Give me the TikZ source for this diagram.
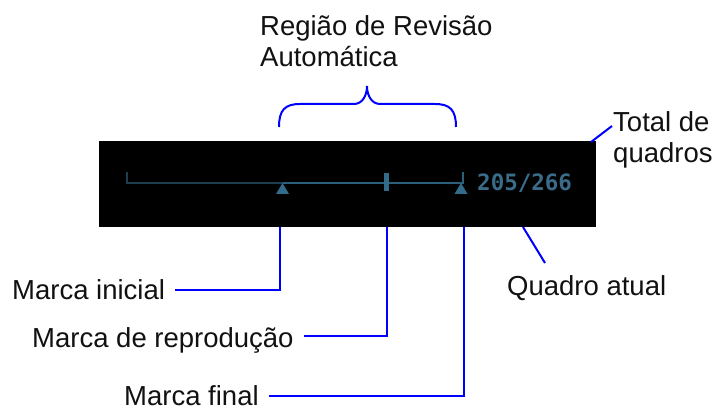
\documentclass[tikz,border=0pt]{standalone}
\usepackage{fontspec}
\setmainfont{Liberation Sans}
\newfontfamily\monofont{DejaVu Sans Mono}
\definecolor{callout}{RGB}{0,0,255}
\definecolor{txt}{RGB}{17,17,17}
\definecolor{dimline}{RGB}{28,62,78}
\definecolor{barline}{RGB}{42,96,124}
\definecolor{markc}{RGB}{50,108,138}
\definecolor{numc}{RGB}{58,108,138}
\tikzset{
  lbl/.style={inner sep=0pt, text=txt, font=\fontsize{27.5}{31}\selectfont, align=left},
  conn/.style={draw=callout, line width=2pt},
  screen/.style={fill=black, draw=none, inner sep=0pt, minimum width=497pt, minimum height=86pt},
}
\begin{document}
\begin{tikzpicture}[x=1pt, y=-1pt]
\useasboundingbox (0,0) rectangle (714,411);
% screen
\node[screen, anchor=north west] (scr) at (99,141) {};
% timeline
\draw[dimline, line width=2pt] (127,172) -- (127,183) -- (283,183);
\draw[barline, line width=2pt] (283,183) -- (463,183) -- (463,172);
\fill[markc] (276,194) -- (282.5,183) -- (289,194) -- cycle;
\fill[markc] (383.5,173) rectangle (388.5,191);
\fill[markc] (454.5,194) -- (461,183) -- (467.5,194) -- cycle;
\node[anchor=base west, inner sep=0pt, text=numc, font=\monofont\bfseries\fontsize{22.5}{24}\selectfont] (cnt) at (477,191) {205/266};
% attachment points on the screen
\coordinate (pinit) at (280,227);
\coordinate (prep) at (387,227);
\coordinate (pfin) at (464,227);
\coordinate (ptot) at (591,142);
\coordinate (pcur) at (523,227);
% labels (base = baseline of last line)
\node[lbl, anchor=base west] (reg) at (260,67) {Região de Revisão\\Automática};
\node[lbl, anchor=base west] (tot) at (613,163) {Total de\\quadros};
\node[lbl, anchor=base west] (cur) at (507,295) {Quadro atual};
\node[lbl, anchor=base west] (minit) at (12,300) {Marca inicial};
\node[lbl, anchor=base west] (mrep) at (32,347) {Marca de reprodução};
\node[lbl, anchor=base west] (mfin) at (124,405) {Marca final};
% brace
\coordinate (btip) at (367,86);
\draw[conn] (279,127) .. controls (279,110) and (285,104) .. (300,104) -- (354,104)
  .. controls (362,104) and (367,96) .. (btip)
  .. controls (367,96) and (372,104) .. (380,104) -- (435,104)
  .. controls (450,104) and (456,110) .. (456,127);
% connectors
\draw[conn] ([xshift=10pt,yshift=10pt]minit.base east) -| (pinit);
\draw[conn] ([xshift=10pt,yshift=11pt]mrep.base east) -| (prep);
\draw[conn] ([xshift=10pt,yshift=9pt]mfin.base east) -| (pfin);
\draw[conn] ([xshift=-1pt,yshift=37pt]tot.base west) -- (ptot);
\draw[conn] ([xshift=38pt,yshift=32pt]cur.base west) -- (pcur);
\end{tikzpicture}
\end{document}
